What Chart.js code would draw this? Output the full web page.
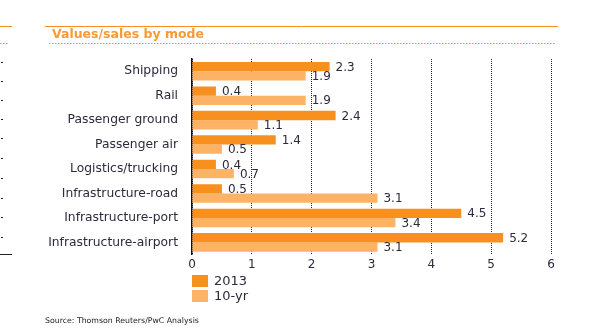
<!DOCTYPE html>
<html>
<head>
<meta charset="utf-8">
<script src="https://cdn.jsdelivr.net/npm/chart.js@4"></script>
<style>
  html, body { margin: 0; padding: 0; background: #fff; }
  #wrap { position: relative; width: 595px; height: 335px; }
</style>
</head>
<body>
<div id="wrap"><canvas id="chart" width="595" height="335"></canvas></div>
<script>
// data
const modes = ['Shipping', 'Rail', 'Passenger ground', 'Passenger air', 'Logistics/trucking',
  'Infrastructure-road', 'Infrastructure-port', 'Infrastructure-airport'];
const values2013 = [2.3, 0.4, 2.4, 1.4, 0.4, 0.5, 4.5, 5.2];
const values10yr = [1.9, 1.9, 1.1, 0.5, 0.7, 3.1, 3.4, 3.1];
const xTicks = [0, 1, 2, 3, 4, 5, 6];

const ORANGE = '#f7901e';
const LIGHT = '#fdb366';
const INK = '#2b2b3d';
const FONT = '"DejaVu Sans", Verdana, sans-serif';

// value labels at the end of each bar
const valueLabels = {
  id: 'valueLabels',
  afterDatasetsDraw(chart) {
    const ctx = chart.ctx;
    ctx.save();
    ctx.font = '12px ' + FONT;
    ctx.fillStyle = INK;
    ctx.textAlign = 'left';
    ctx.textBaseline = 'middle';
    chart.data.datasets.forEach((ds, i) => {
      chart.getDatasetMeta(i).data.forEach((bar, j) => {
        ctx.fillText(ds.data[j].toFixed(1), bar.x + 6, bar.y + 1);
      });
    });
    ctx.restore();
  }
};

// title rules, legend and source note
const decor = {
  id: 'decor',
  afterDraw(chart) {
    const ctx = chart.ctx;
    ctx.save();
    ctx.strokeStyle = ORANGE;
    ctx.lineWidth = 1;
    ctx.beginPath();
    ctx.moveTo(0, 26.5); ctx.lineTo(12, 26.5);
    ctx.moveTo(45, 26.5); ctx.lineTo(558, 26.5);
    ctx.stroke();
    ctx.setLineDash([1.5, 1.5]);
    ctx.beginPath();
    ctx.moveTo(0, 43.5); ctx.lineTo(9, 43.5);
    ctx.moveTo(49, 43.5); ctx.lineTo(555, 43.5);
    ctx.stroke();
    ctx.setLineDash([]);

    // stray ticks from the neighbouring panel
    ctx.fillStyle = '#222';
    [62, 81, 100, 119, 138, 158, 178, 198, 217, 237].forEach(y => ctx.fillRect(1, y, 2, 1));
    ctx.fillRect(0, 254, 12, 1);

    ctx.font = 'bold 12.5px ' + FONT;
    ctx.fillStyle = '#f99a35';
    ctx.textBaseline = 'middle';
    ctx.fillText('Values/sales by mode', 52, 35);

    const left = chart.chartArea.left;
    chart.data.datasets.forEach((ds, i) => {
      const y = 275 + i * 15;
      ctx.fillStyle = ds.backgroundColor;
      ctx.fillRect(left, y, 16, 12);
      ctx.fillStyle = INK;
      ctx.font = '13px ' + FONT;
      ctx.fillText(ds.label, left + 22, y + 6.5);
    });

    ctx.font = '7.8px ' + FONT;
    ctx.fillStyle = '#222';
    ctx.fillText('Source: Thomson Reuters/PwC Analysis', 45, 321);
    ctx.restore();
  }
};

new Chart(document.getElementById('chart'), {
  type: 'bar',
  data: {
    labels: modes,
    datasets: [
      { label: '2013', data: values2013, backgroundColor: ORANGE },
      { label: '10-yr', data: values10yr, backgroundColor: LIGHT }
    ]
  },
  options: {
    indexAxis: 'y',
    responsive: false,
    animation: false,
    events: [],
    categoryPercentage: 0.76,
    barPercentage: 1,
    layout: { padding: { left: 42, right: 44, top: 59, bottom: 60 } },
    plugins: { legend: { display: false }, tooltip: { enabled: false } },
    scales: {
      x: {
        min: 0, max: 6,
        afterBuildTicks: s => { s.ticks = xTicks.map(v => ({ value: v })); },
        grid: { color: '#222', lineWidth: 1, drawTicks: false },
        border: { display: false, dash: [1, 1] },
        ticks: { color: INK, font: { family: FONT, size: 12 }, padding: 3 }
      },
      y: {
        afterFit: s => { s.width = 150; },
        grid: { display: false },
        border: { display: true, color: '#111', width: 1.5 },
        ticks: { color: INK, font: { family: FONT, size: 12.3 }, padding: 6 }
      }
    }
  },
  plugins: [valueLabels, decor]
});
</script>
</body>
</html>
